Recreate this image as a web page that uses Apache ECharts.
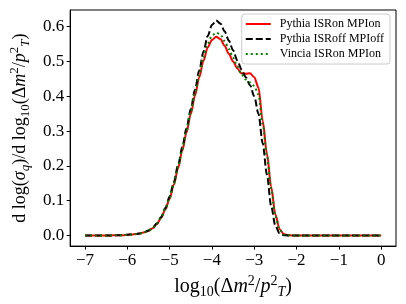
<!DOCTYPE html>
<html><head><meta charset="utf-8">
<script src="https://cdn.jsdelivr.net/npm/echarts@6/dist/echarts.min.js"></script>
<style>html,body{margin:0;padding:0;background:#fff}#c{width:406px;height:304px}</style>
</head><body><div id="c"></div>
<script>
// x from -7.0 to 0.0 in steps of 0.1 (71 values)
const xValues = [
  -7.0, -6.9, -6.8, -6.7, -6.6, -6.5, -6.4, -6.3, -6.2, -6.1,
  -6.0, -5.9, -5.8, -5.7, -5.6, -5.5, -5.4, -5.3, -5.2, -5.1,
  -5.0, -4.9, -4.8, -4.7, -4.6, -4.5, -4.4, -4.3, -4.2, -4.1,
  -4.0, -3.9, -3.8, -3.7, -3.6, -3.5, -3.4, -3.3, -3.2, -3.1,
  -3.0, -2.9, -2.8, -2.7, -2.6, -2.5, -2.4, -2.3, -2.2, -2.1,
  -2.0, -1.9, -1.8, -1.7, -1.6, -1.5, -1.4, -1.3, -1.2, -1.1,
  -1.0, -0.9, -0.8, -0.7, -0.6, -0.5, -0.4, -0.3, -0.2, -0.1,
  0.0];
const pythiaOn = [
  0, 0, 0, 0, 0, 0, 0, 0.001, 0.001, 0.001,
  0.002, 0.003, 0.004, 0.006, 0.009, 0.013, 0.021, 0.033, 0.05, 0.075,
  0.105, 0.146, 0.193, 0.244, 0.296, 0.349, 0.402, 0.454, 0.502, 0.54,
  0.562, 0.571, 0.565, 0.545, 0.522, 0.5, 0.48, 0.466, 0.465, 0.466,
  0.455, 0.425, 0.33, 0.235, 0.14, 0.06, 0.018, 0.004, 0.001, 0,
  0, 0, 0, 0, 0, 0, 0, 0, 0, 0,
  0, 0, 0, 0, 0, 0, 0, 0, 0, 0,
  0];
const pythiaOff = [
  0, 0, 0, 0, 0, 0, 0, 0.001, 0.001, 0.001,
  0.002, 0.003, 0.004, 0.006, 0.009, 0.014, 0.022, 0.035, 0.053, 0.079,
  0.111, 0.153, 0.202, 0.254, 0.308, 0.363, 0.419, 0.474, 0.528, 0.573,
  0.605, 0.618, 0.609, 0.587, 0.56, 0.532, 0.503, 0.477, 0.455, 0.432,
  0.4, 0.35, 0.265, 0.175, 0.085, 0.028, 0.006, 0.001, 0, 0,
  0, 0, 0, 0, 0, 0, 0, 0, 0, 0,
  0, 0, 0, 0, 0, 0, 0, 0, 0, 0,
  0];
const vincia = [
  0, 0, 0, 0, 0, 0, 0, 0.001, 0.001, 0.001,
  0.002, 0.003, 0.004, 0.006, 0.009, 0.013, 0.021, 0.034, 0.051, 0.077,
  0.108, 0.149, 0.197, 0.248, 0.301, 0.355, 0.409, 0.462, 0.512, 0.551,
  0.574, 0.583, 0.578, 0.559, 0.536, 0.511, 0.486, 0.463, 0.448, 0.44,
  0.43, 0.405, 0.32, 0.23, 0.135, 0.055, 0.016, 0.003, 0.001, 0,
  0, 0, 0, 0, 0, 0, 0, 0, 0, 0,
  0, 0, 0, 0, 0, 0, 0, 0, 0, 0,
  0];
const xTicks = [-7, -6, -5, -4, -3, -2, -1, 0];
const yTicks = [0, 0.1, 0.2, 0.3, 0.4, 0.5, 0.6];
const seriesNames = ['Pythia ISRon MPIon', 'Pythia ISRoff MPIoff', 'Vincia ISRon MPIon'];

const FONT = 'Liberation Serif';
const pair = ys => xValues.map((x, i) => [x, ys[i]]);
const chart = echarts.init(document.getElementById('c'), null, {renderer: 'canvas'});
const makeRich = (big, small, lh) => ({
  r: {fontFamily: FONT, fontSize: big, lineHeight: lh, color: '#000', verticalAlign: 'middle'},
  i: {fontFamily: FONT, fontSize: big, lineHeight: lh, fontStyle: 'italic', color: '#000', verticalAlign: 'middle'},
  sub: {fontFamily: FONT, fontSize: small, lineHeight: small, color: '#000', verticalAlign: 'bottom'},
  subi: {fontFamily: FONT, fontSize: small, lineHeight: small, fontStyle: 'italic', color: '#000', verticalAlign: 'bottom'},
  sup: {fontFamily: FONT, fontSize: small, lineHeight: small, color: '#000', verticalAlign: 'top'}
});
chart.setOption({
  animation: false,
  backgroundColor: '#fff',
  grid: {left: 61, right: 10, top: 10, bottom: 56, show: true, borderColor: '#000', borderWidth: 1},
  legend: {
    orient: 'vertical', right: 16, top: 14,
    data: seriesNames,
    itemWidth: 25, itemHeight: 14, itemGap: 3,
    padding: [4, 6, 4, 3],
    borderColor: '#cccccc', borderWidth: 1, borderRadius: 3,
    backgroundColor: 'rgba(255,255,255,0.8)',
    itemStyle: {opacity: 0},
    textStyle: {fontFamily: FONT, fontSize: 12, color: '#000', padding: [0, 0, 0, 4]}
  },
  xAxis: {
    type: 'value', min: -7.35, max: 0.35,
    axisLine: {show: true, onZero: false, lineStyle: {color: '#000', width: 1}},
    axisTick: {show: true, inside: false, length: 3.5, lineStyle: {color: '#000'}, customValues: xTicks},
    axisLabel: {customValues: xTicks, margin: 6, fontFamily: FONT, fontSize: 17, color: '#000',
      formatter: v => String(v).replace('-', '\u2212')},
    splitLine: {show: false},
    name: '{r|log}{sub|10}{r|(Δ}{i|m}{sup|2}{r|/}{i|p}{sup|2}{subi|T}{r|)}',
    nameLocation: 'middle', nameGap: 18,
    nameTextStyle: {rich: makeRich(20, 14, 25)}
  },
  yAxis: {
    type: 'value', min: -0.0305, max: 0.648,
    axisLine: {show: true, onZero: false, lineStyle: {color: '#000', width: 1}},
    axisTick: {show: true, inside: false, length: 3.5, lineStyle: {color: '#000'}, customValues: yTicks},
    axisLabel: {customValues: yTicks, margin: 6, fontFamily: FONT, fontSize: 17, color: '#000',
      formatter: v => v.toFixed(1)},
    splitLine: {show: false},
    name: '{r|d log(}{i|σ}{subi|q}{r|)/d log}{sub|10}{r|(Δ}{i|m}{sup|2}{r|/}{i|p}{sup|2}{subi|T}{r|)}',
    nameLocation: 'middle', nameGap: 37, nameRotate: 90,
    nameTextStyle: {rich: makeRich(18, 13, 24)}
  },
  series: [
    {name: seriesNames[0], type: 'line', data: pair(pythiaOn), showSymbol: false, symbol: 'none',
      smooth: 0.3, smoothMonotone: 'x', color: '#ff0000', lineStyle: {color: '#ff0000', width: 2}},
    {name: seriesNames[1], type: 'line', data: pair(pythiaOff), showSymbol: false, symbol: 'none',
      smooth: 0.3, smoothMonotone: 'x', color: '#000000', lineStyle: {color: '#000000', width: 2, type: [7, 3]}},
    {name: seriesNames[2], type: 'line', data: pair(vincia), showSymbol: false, symbol: 'none',
      smooth: 0.3, smoothMonotone: 'x', color: '#008000', lineStyle: {color: '#008000', width: 2, type: [2, 3]}}
  ]
});
</script></body></html>
